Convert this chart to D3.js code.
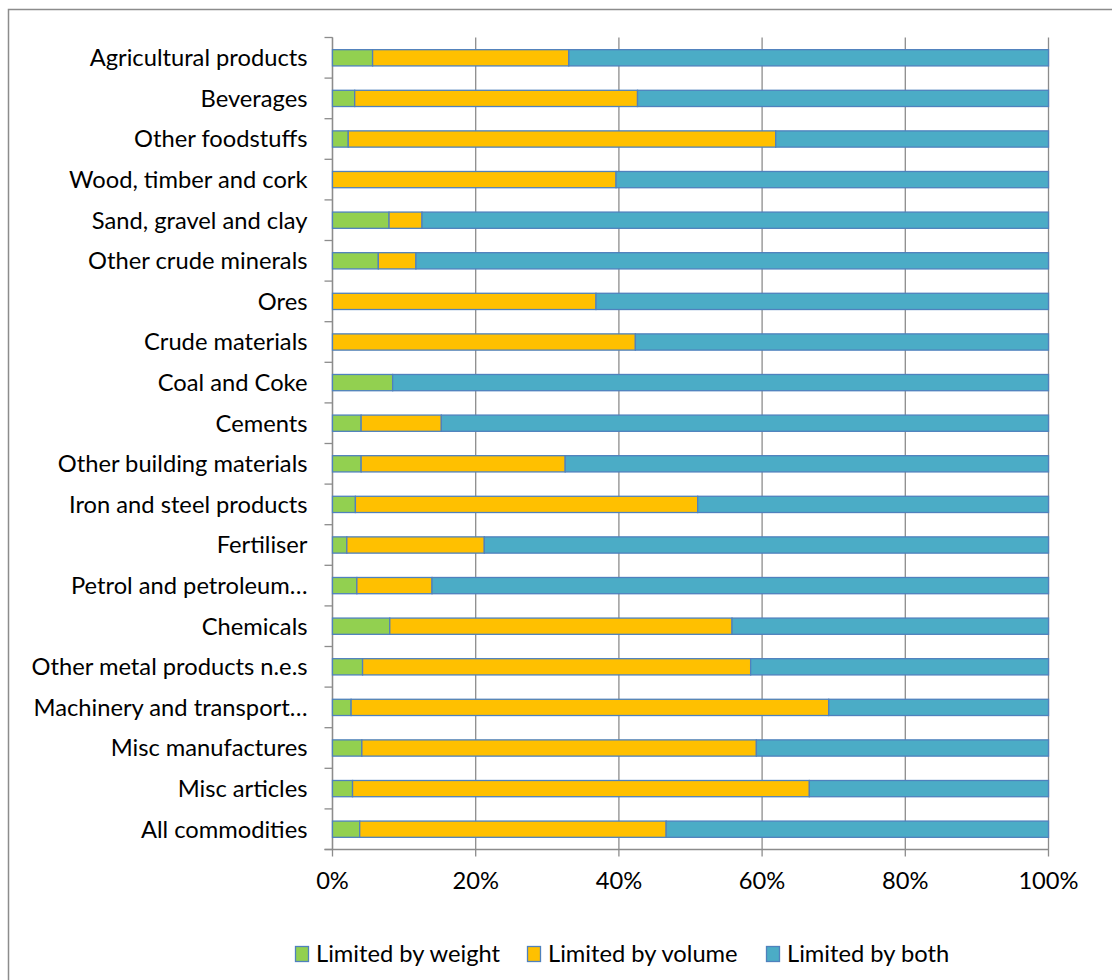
<!DOCTYPE html>
<html>
<head>
<meta charset="utf-8">
<script src="https://cdn.jsdelivr.net/npm/d3@7"></script>
<style>
  html, body { margin: 0; padding: 0; background: #fff; }
  svg { display: block; }
  text { font-family: Lato, "Open Sans", sans-serif; fill: #000; }
</style>
</head>
<body>
<svg id="chart" width="1112" height="980"></svg>
<script>
// Commodity groups, top to bottom
const categories = [
  "Agricultural products", "Beverages", "Other foodstuffs", "Wood, timber and cork",
  "Sand, gravel and clay", "Other crude minerals", "Ores", "Crude materials",
  "Coal and Coke", "Cements", "Other building materials", "Iron and steel products",
  "Fertiliser", "Petrol and petroleum…", "Chemicals", "Other metal products n.e.s",
  "Machinery and transport…", "Misc manufactures", "Misc articles", "All commodities"
];

// Share of loads (%) limited by each constraint
const limitedByWeight = [5.6, 3.1, 2.2, 0, 7.9, 6.4, 0, 0, 8.4, 4.0,
                         4.0, 3.2, 2.0, 3.4, 8.0, 4.2, 2.6, 4.1, 2.8, 3.8];
const limitedByVolume = [27.4, 39.5, 59.7, 39.6, 4.6, 5.25, 36.8, 42.3, 0, 11.2,
                         28.5, 47.8, 19.2, 10.5, 47.8, 54.2, 66.7, 55.1, 63.8, 42.8];
const limitedByBoth = limitedByWeight.map((w, i) => +(100 - w - limitedByVolume[i]).toFixed(2));

const seriesNames = ["Limited by weight", "Limited by volume", "Limited by both"];
const seriesColors = ["#92d050", "#ffc000", "#4bacc6"];
const xTicks = [0, 20, 40, 60, 80, 100];

const svg = d3.select("#chart");

// chart frame
svg.append("rect")
  .attr("x", 8.5).attr("y", 9.5)
  .attr("width", 1120).attr("height", 1000)
  .attr("fill", "none").attr("stroke", "#8c8c8c").attr("stroke-width", 1.5);

const plot = { left: 332.5, right: 1048.5, top: 37.5, bottom: 849.5 };

const x = d3.scaleLinear().domain([0, 100]).range([plot.left, plot.right]);
const y = d3.scaleBand().domain(categories).range([plot.top, plot.bottom])
  .paddingInner(0.6).paddingOuter(0.3);

// vertical gridlines
svg.append("g")
  .selectAll("line")
  .data(xTicks)
  .join("line")
  .attr("x1", d => x(d)).attr("x2", d => x(d))
  .attr("y1", plot.top).attr("y2", plot.bottom + 7)
  .attr("stroke", "#8c8c8c").attr("stroke-width", 1.3);

// category axis line and tick marks at band boundaries
const step = y.step();
const boundaries = d3.range(categories.length + 1).map(i => plot.top + i * step);
const yAxisG = svg.append("g");
yAxisG.append("line")
  .attr("x1", plot.left).attr("x2", plot.left)
  .attr("y1", plot.top).attr("y2", plot.bottom)
  .attr("stroke", "#8c8c8c").attr("stroke-width", 1.3);
yAxisG.selectAll("line.tick")
  .data(boundaries)
  .join("line")
  .attr("class", "tick")
  .attr("x1", plot.left - 8).attr("x2", plot.left)
  .attr("y1", d => d).attr("y2", d => d)
  .attr("stroke", "#8c8c8c").attr("stroke-width", 1.3);

// bottom axis line
svg.append("line")
  .attr("x1", plot.left - 8).attr("x2", plot.right)
  .attr("y1", plot.bottom).attr("y2", plot.bottom)
  .attr("stroke", "#8c8c8c").attr("stroke-width", 1.3);

// stacked bars
const rows = categories.map((c, i) => ({
  category: c,
  "Limited by weight": limitedByWeight[i],
  "Limited by volume": limitedByVolume[i],
  "Limited by both": limitedByBoth[i]
}));
const stacked = d3.stack().keys(seriesNames)(rows);

svg.append("g")
  .selectAll("g")
  .data(stacked)
  .join("g")
  .attr("fill", (d, i) => seriesColors[i])
  .selectAll("rect")
  .data(d => d.filter(s => s[1] - s[0] > 0))
  .join("rect")
  .attr("x", d => x(d[0]))
  .attr("y", d => y(d.data.category))
  .attr("width", d => x(d[1]) - x(d[0]))
  .attr("height", y.bandwidth())
  .attr("stroke", "#4f81bd")
  .attr("stroke-width", 1.3);

// font size fitted to label width
function fitSize(str, target) {
  const t = svg.append("text").attr("font-size", 20).text(str);
  const w = t.node().getComputedTextLength();
  t.remove();
  return 20 * target / w;
}
const labelSize = fitSize("Agricultural products", 218);

// category labels
svg.append("g")
  .selectAll("text")
  .data(categories)
  .join("text")
  .attr("x", plot.left - 25)
  .attr("y", d => y(d) + y.bandwidth() / 2)
  .attr("dy", "0.35em")
  .attr("text-anchor", "end")
  .attr("font-size", labelSize)
  .text(d => d);

// percentage tick labels
svg.append("g")
  .selectAll("text")
  .data(xTicks)
  .join("text")
  .attr("x", d => x(d))
  .attr("y", 881)
  .attr("dy", "0.35em")
  .attr("text-anchor", "middle")
  .attr("font-size", labelSize)
  .text(d => d + "%");

// legend
const legendX = [295, 527, 766];
const legend = svg.append("g")
  .selectAll("g")
  .data(seriesNames)
  .join("g")
  .attr("transform", (d, i) => `translate(${legendX[i]},946)`);
legend.append("rect")
  .attr("x", 0.5).attr("y", 0.5)
  .attr("width", 13).attr("height", 15)
  .attr("fill", (d, i) => seriesColors[i])
  .attr("stroke", "#4f81bd").attr("stroke-width", 1.3);
legend.append("text")
  .attr("x", 21).attr("y", 8)
  .attr("dy", "0.35em")
  .attr("font-size", labelSize)
  .text(d => d);
</script>
</body>
</html>
